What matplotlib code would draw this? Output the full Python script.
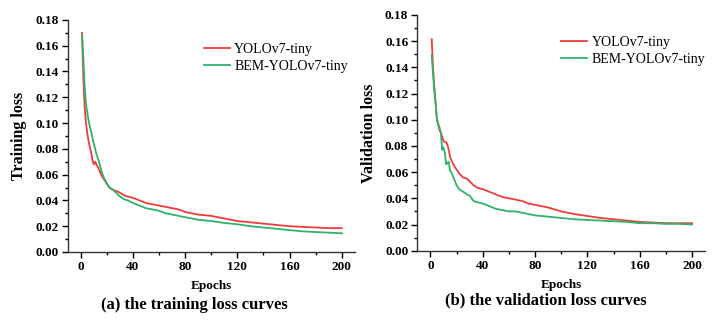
"""Training / validation loss curves for YOLOv7-tiny vs BEM-YOLOv7-tiny."""

import matplotlib

matplotlib.use("Agg")
import matplotlib.pyplot as plt
from matplotlib.ticker import MultipleLocator

RED = "#f03c3c"
GREEN = "#2fb36b"

train_epochs = [1, 2, 3, 4, 5, 6, 7, 8, 9, 10, 11, 12, 14, 16, 18, 20, 22, 25, 28, 30,
                33, 36, 40, 45, 50, 55, 60, 65, 70, 75, 80, 90, 100, 110, 120, 130,
                140, 150, 160, 170, 180, 190, 200]
train_yolo = [0.170, 0.135, 0.112, 0.100, 0.092, 0.086, 0.081, 0.077, 0.071, 0.068,
              0.070, 0.068, 0.064, 0.059, 0.056, 0.053, 0.050, 0.048, 0.047, 0.046,
              0.044, 0.043, 0.042, 0.040, 0.038, 0.037, 0.036, 0.035, 0.034, 0.033,
              0.031, 0.029, 0.028, 0.026, 0.024, 0.023, 0.022, 0.021, 0.020, 0.0195,
              0.019, 0.0185, 0.0185]
train_bem = [0.168, 0.150, 0.128, 0.115, 0.108, 0.102, 0.097, 0.093, 0.088, 0.084,
             0.080, 0.076, 0.070, 0.062, 0.057, 0.053, 0.050, 0.048, 0.045, 0.043,
             0.041, 0.040, 0.038, 0.036, 0.034, 0.033, 0.032, 0.030, 0.029, 0.028,
             0.027, 0.025, 0.024, 0.0225, 0.0215, 0.020, 0.019, 0.018, 0.017, 0.016,
             0.0155, 0.015, 0.0145]

val_epochs = [1, 2, 3, 4, 5, 6, 7, 8, 9, 10, 11, 12, 13, 14, 15, 16, 18, 20, 22, 25,
              28, 30, 33, 36, 40, 45, 50, 55, 60, 65, 70, 75, 80, 90, 100, 110, 120,
              130, 140, 150, 160, 170, 180, 190, 200]
val_yolo = [0.1615, 0.140, 0.125, 0.113, 0.100, 0.096, 0.092, 0.090, 0.087, 0.084,
            0.083, 0.083, 0.081, 0.077, 0.072, 0.069, 0.065, 0.062, 0.059, 0.056,
            0.055, 0.053, 0.050, 0.048, 0.047, 0.045, 0.043, 0.041, 0.040, 0.039,
            0.038, 0.036, 0.035, 0.033, 0.030, 0.028, 0.0265, 0.025, 0.024, 0.023,
            0.022, 0.0215, 0.021, 0.021, 0.021]
val_bem = [0.1495, 0.135, 0.122, 0.112, 0.100, 0.097, 0.094, 0.090, 0.077, 0.079,
           0.075, 0.066, 0.067, 0.068, 0.061, 0.060, 0.055, 0.050, 0.047, 0.045,
           0.043, 0.042, 0.038, 0.037, 0.036, 0.034, 0.032, 0.031, 0.030, 0.030,
           0.029, 0.028, 0.027, 0.026, 0.025, 0.024, 0.0235, 0.023, 0.0225, 0.022,
           0.021, 0.021, 0.0205, 0.0205, 0.020]

labels = ["YOLOv7-tiny", "BEM-YOLOv7-tiny"]

plt.rcParams["font.family"] = ["Liberation Serif", "DejaVu Serif"]


def draw_panel(ax, epochs, red_vals, green_vals, ylabel, legend_anchor):
    """Draw one loss panel in the Origin-like style of the reference."""
    ax.plot(epochs, red_vals, color=RED, lw=1.3, label=labels[0])
    ax.plot(epochs, green_vals, color=GREEN, lw=1.3, label=labels[1])
    ax.set_xlim(-10, 210)
    ax.set_ylim(0, 0.18)
    ax.xaxis.set_major_locator(MultipleLocator(40))
    ax.xaxis.set_minor_locator(MultipleLocator(20))
    ax.yaxis.set_major_locator(MultipleLocator(0.02))
    ax.yaxis.set_minor_locator(MultipleLocator(0.01))
    ax.yaxis.set_major_formatter(lambda v, _: f"{v:.2f}")
    for side in ("top", "right"):
        ax.spines[side].set_visible(False)
    for side in ("left", "bottom"):
        ax.spines[side].set_linewidth(1.0)
        ax.spines[side].set_color("#333333")
    ax.tick_params(which="major", length=4.5, width=1, direction="out", labelsize=9.5, pad=2)
    ax.tick_params(which="minor", length=2.5, width=1, direction="out")
    for lab in ax.get_xticklabels() + ax.get_yticklabels():
        lab.set_fontweight("bold")
    ax.set_xlabel("Epochs", fontsize=9.5, fontweight="bold", labelpad=5)
    ax.set_ylabel(ylabel, fontsize=11.5, fontweight="bold", labelpad=6)
    ax.legend(loc="upper right", bbox_to_anchor=legend_anchor, frameon=False,
              fontsize=10, handlelength=1.9, handletextpad=0.3, labelspacing=0.3,
              borderpad=0)


fig = plt.figure(figsize=(7.25, 3.26), dpi=100)
ax_a = fig.add_axes([0.0934, 0.227, 0.396, 0.712])
ax_b = fig.add_axes([0.5756, 0.231, 0.397, 0.723])

draw_panel(ax_a, train_epochs, train_yolo, train_bem, "Training loss", (1.0, 0.93))
draw_panel(ax_b, val_epochs, val_yolo, val_bem, "Validation loss", (1.025, 0.94))

fig.text(0.268, 0.063, "(a) the training loss curves", ha="center", va="center",
         fontsize=12, fontweight="bold")
fig.text(0.753, 0.078, "(b) the validation loss curves", ha="center", va="center",
         fontsize=12, fontweight="bold")

fig.savefig("out.png", dpi=100)
